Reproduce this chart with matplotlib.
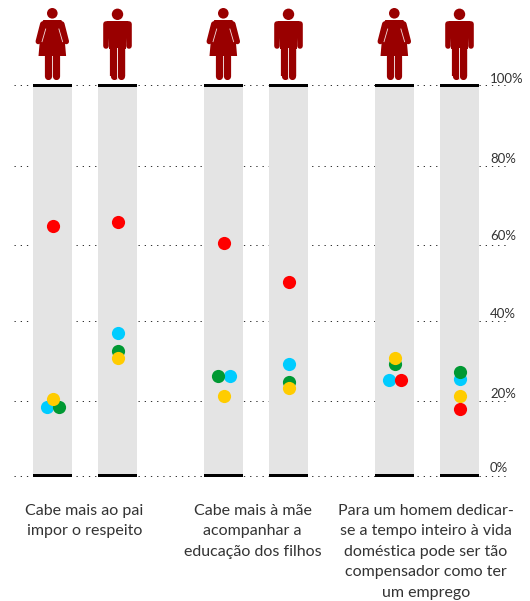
import matplotlib
matplotlib.use('Agg')
import matplotlib.pyplot as plt
from matplotlib.patches import Circle, Polygon, Rectangle

# values in %, one entry per column: woman, man, woman, man, woman, man
red = [64.0, 65.0, 59.5, 49.6, 24.4, 17.1]
blue = [17.6, 36.4, 25.5, 28.6, 24.4, 24.8]
green = [17.6, 31.8, 25.5, 24.0, 28.6, 26.4]
yellow = [19.7, 30.2, 20.3, 22.3, 30.0, 20.3]
grid_levels = [0, 19.2, 39.7, 59.2, 79.2, 100]
tick_labels = ['0%', '20%', '40%', '60%', '80%', '100%']
icons = ['woman', 'man', 'woman', 'man', 'woman', 'man']
captions = [
    ['Cabe mais ao pai', 'impor o respeito'],
    ['Cabe mais à mãe', 'acompanhar a', 'educação dos filhos'],
    ['Para um homem dedicar-', 'se a tempo inteiro à vida', 'doméstica pode ser tão',
     'compensador como ter', 'um emprego'],
]

# layout, in pixels
W, H = 530, 601
Y0, Y100 = 475.5, 85.3
col_left = [33, 98, 204, 269, 375, 440]
col_w = 39
caption_x = [84.5, 252.5, 426]
label_y = [468, 394, 314, 236, 159, 79]
# sideways nudges for dots that would sit on top of each other
blue_dx = [-6, 0, 6, 0, -6, 0]
green_dx = [6, 0, -6, 0, 0, 0]
red_dx = [0, 0, 0, 0, 6, 0]

DARK_RED = '#990000'
TEXT = '#333333'

fig = plt.figure(figsize=(W / 100, H / 100), dpi=100)
ax = fig.add_axes([0, 0, 1, 1])
per_px = 100 / (Y0 - Y100)
ax.set_xlim(0, W)
ax.set_ylim(-(H - Y0) * per_px, Y0 * per_px)
ax.axis('off')

px = fig.add_axes([0, 0, 1, 1])
px.set_xlim(0, W)
px.set_ylim(H, 0)
px.axis('off')
px.patch.set_alpha(0)


def limb(x0, y0, x1, y1, width, color=DARK_RED):
    px.plot([x0, x1], [y0, y1], color=color, lw=width * 0.72, solid_capstyle='round', zorder=5)


def draw_woman(c):
    px.add_patch(Circle((c, 13.3), 5.3, color=DARK_RED, lw=0, zorder=5))
    px.add_patch(Polygon([(c - 9, 20), (c + 9, 20), (c + 11, 24), (c + 13.8, 56), (c - 13.8, 56), (c - 11, 24)],
                         closed=True, color=DARK_RED, lw=0, zorder=5))
    limb(c - 9.5, 24, c - 14, 41.5, 5.5)
    limb(c + 9.5, 24, c + 14, 41.5, 5.5)
    limb(c - 4, 56, c - 4, 75.7, 7.2)
    limb(c + 4, 56, c + 4, 75.7, 7.2)
    # thin slits under the arms
    px.plot([c - 6.6, c - 10.3], [29, 41.7], color='#f3dcdc', lw=0.6, zorder=6)
    px.plot([c + 6.6, c + 10.3], [29, 41.7], color='#f3dcdc', lw=0.6, zorder=6)


def draw_man(c):
    px.add_patch(Circle((c, 14.3), 5.7, color=DARK_RED, lw=0, zorder=5))
    px.add_patch(Polygon([(c - 11, 21), (c + 11, 21), (c + 11, 30), (c + 7.6, 48), (c + 7.6, 76), (c - 7.6, 76), (c - 7.6, 48), (c - 11, 30)],
                         closed=True, color=DARK_RED, lw=0, zorder=5))
    px.add_patch(Rectangle((c - 8.6, 21), 17.2, 28, color=DARK_RED, lw=0, zorder=5))
    limb(c - 11.2, 24.2, c - 11.2, 46.2, 5.6)
    limb(c + 11.2, 24.2, c + 11.2, 46.2, 5.6)
    limb(c - 3.8, 49, c - 3.8, 76, 7.2)
    limb(c + 3.8, 49, c + 3.8, 76, 7.2)
    px.add_patch(Rectangle((c - 8.9, 29), 0.7, 20, color='#eecccc', lw=0, zorder=6))
    px.add_patch(Rectangle((c + 8.2, 29), 0.7, 20, color='#eecccc', lw=0, zorder=6))
    px.add_patch(Rectangle((c - 0.4, 48), 0.8, 32, color='#f3dcdc', lw=0, zorder=6))


# dotted guides go behind the grey columns
for level in grid_levels:
    ax.plot([14, 507], [level, level], color='#333333', lw=0.72, ls=(0, (1.3, 4.9)), zorder=1)

for left in col_left:
    ax.add_patch(Rectangle((left, 0), col_w, 100, color='#e4e4e4', lw=0, zorder=2))
    ax.add_patch(Rectangle((left, -1.5 * per_px), col_w, 3 * per_px, color='black', lw=0, zorder=3))
    ax.add_patch(Rectangle((left, 100 - 1.5 * per_px), col_w, 3 * per_px, color='black', lw=0, zorder=3))

centers = [left + col_w / 2 for left in col_left]
series = [(blue, blue_dx, '#00ccff'), (green, green_dx, '#009933'),
          (yellow, [0] * 6, '#ffcc00'), (red, red_dx, '#ff0000')]
for values, dx, color in series:
    xs = [c + d for c, d in zip(centers, dx)]
    ax.scatter(xs, values, s=90, color=color, linewidths=0, zorder=4)

for c, kind in zip(centers, icons):
    if kind == 'woman':
        draw_woman(c - 0.2)
    else:
        draw_man(c)

for y, label in zip(label_y, tick_labels):
    px.text(490, y, label, fontsize=9.5, family='Lato', color=TEXT, ha='left', va='center')

for x, lines in zip(caption_x, captions):
    for i, line in enumerate(lines):
        px.text(x, 511 + 20.4 * i, line, fontsize=11.5, family='Lato', color=TEXT, ha='center', va='center')

fig.savefig('out.png', dpi=100)
